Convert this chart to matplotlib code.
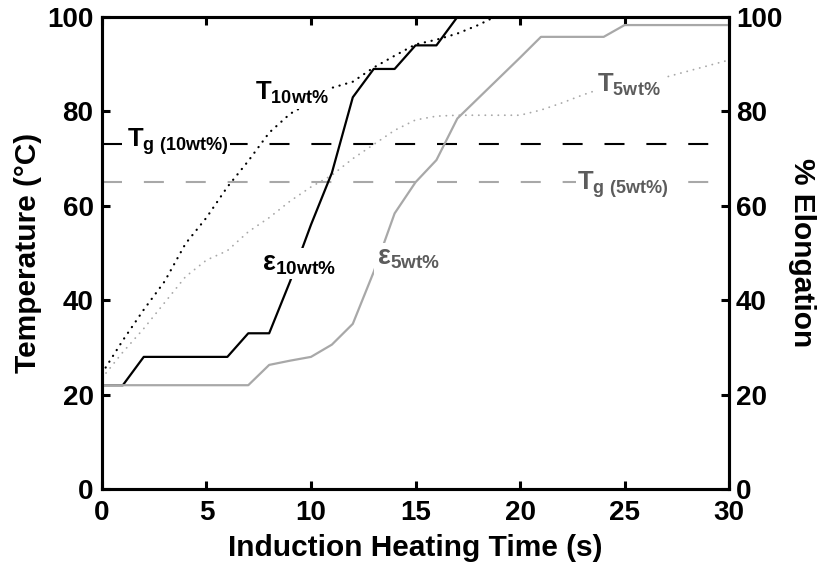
import numpy as np
import matplotlib as mpl
import matplotlib.pyplot as plt

mpl.rcParams['font.family'] = ['Liberation Sans', 'DejaVu Sans']
mpl.rcParams['font.weight'] = 'bold'
mpl.rcParams['mathtext.fontset'] = 'custom'
mpl.rcParams['mathtext.rm'] = 'Liberation Sans:bold'
mpl.rcParams['mathtext.bf'] = 'Liberation Sans:bold'
mpl.rcParams['mathtext.it'] = 'Liberation Sans:bold'

# temperature readings (deg C), one per second
t10 = np.arange(0, 20)
temp10 = [24.5, 31.5, 38, 44, 52, 57.5, 64, 69.5, 75.5, 79.5, 82, 85, 86.3, 89.3, 91.8, 94.2, 95.2, 96.5, 98.3, 100.5]
t5 = np.arange(0, 31)
temp5 = [23.5, 29, 34, 39.5, 45, 48.5, 50.5, 54.5, 57.5, 61, 64, 66.5, 70, 73, 76, 78.2, 79, 79.2, 79.2, 79.2,
         79.2, 80.3, 81.8, 83.5, 85, 85.8, 86.5, 87.3, 88.5, 89.7, 90.9]

# elongation (%), one per second
e10_t = np.arange(0, 21)
elong10 = [22, 22, 28, 28, 28, 28, 28, 33, 33, 44, 56, 67, 83, 89, 89, 94, 94, 100, 100, 100, 100]
e5_t = np.arange(0, 31)
elong5 = [22, 22, 22, 22, 22, 22, 22, 22, 26.3, 27.2, 28, 30.6, 35, 46, 58.4, 65, 69.7, 78.5, 82.8, 87.1,
          91.4, 95.8, 95.8, 95.8, 95.8, 98.3, 98.3, 98.3, 98.3, 98.3, 98.3]

tg10 = 73  # glass transition, 10 wt%
tg5 = 65   # glass transition, 5 wt%

black = 'k'
grey = '#a8a8a8'
greyText = '#5c5c5c'

fig = plt.figure(figsize=(8.22, 5.68), dpi=100)
ax = fig.add_axes([0.124, 0.139, 0.763, 0.831])
ax2 = ax.twinx()

ax.plot([0, 30], [tg10, tg10], color=black, lw=1.5, ls=(0, (9.6, 10.5)))
ax.plot([0, 30], [tg5, tg5], color=grey, lw=1.5, ls=(0, (9.6, 10.5)))
ax.plot(t10, temp10, color=black, lw=1.6, ls=(0, (0.1, 3.0)), dash_capstyle='round')
ax.plot(t5, temp5, color=grey, lw=1.3, ls=(0, (0.1, 3.5)), dash_capstyle='round')

ax2.plot(e10_t, elong10, color=black, lw=1.6)
ax2.plot(e5_t, elong5, color=grey, lw=1.6)

box = dict(facecolor='white', edgecolor='none', pad=2)
tightBox = dict(facecolor='white', edgecolor='none', pad=1)
ax2.text(7.3, 82.4, r'$\mathbf{T_{10wt\%}}$', fontsize=18.5, color=black, bbox=box)
ax2.text(1.2, 72.5, r'$\mathbf{T_{g\ (10wt\%)}}$', fontsize=18.5, color=black, bbox=tightBox)
ax2.text(7.66, 46.4, r'$\mathbf{ε_{10wt\%}}$', fontsize=19.5, color=black, bbox=box)
ax2.text(13.16, 47.5, r'$\mathbf{ε_{5wt\%}}$', fontsize=19.5, color=greyText, bbox=box)
ax2.text(23.68, 84.1, r'$\mathbf{T_{5wt\%}}$', fontsize=18.5, color=greyText, bbox=box)
ax2.text(22.73, 63.3, r'$\mathbf{T_{g\ (5wt\%)}}$', fontsize=18.5, color=greyText, bbox=tightBox)

for a in (ax, ax2):
    a.set_xlim(0, 30)
    a.set_ylim(0, 100)
    a.set_yticks(np.arange(0, 101, 20))
    for s in a.spines.values():
        s.set_linewidth(2.2)

ax.set_xticks(np.arange(0, 31, 5))
ax.tick_params(axis='both', direction='in', length=6, width=2.2, labelsize=20, pad=6)
ax.tick_params(axis='x', top=True, pad=8)
ax2.tick_params(axis='y', direction='in', length=6, width=2.2, labelsize=20, pad=5)

ax.set_xlabel('Induction Heating Time (s)', fontsize=21.5, fontweight='bold', labelpad=6)
ax.set_ylabel('Temperature (°C)', fontsize=21.5, fontweight='bold', labelpad=4)
ax2.set_ylabel('% Elongation', fontsize=21.5, fontweight='bold', rotation=270, labelpad=24)

plt.savefig('out.png', dpi=100)
